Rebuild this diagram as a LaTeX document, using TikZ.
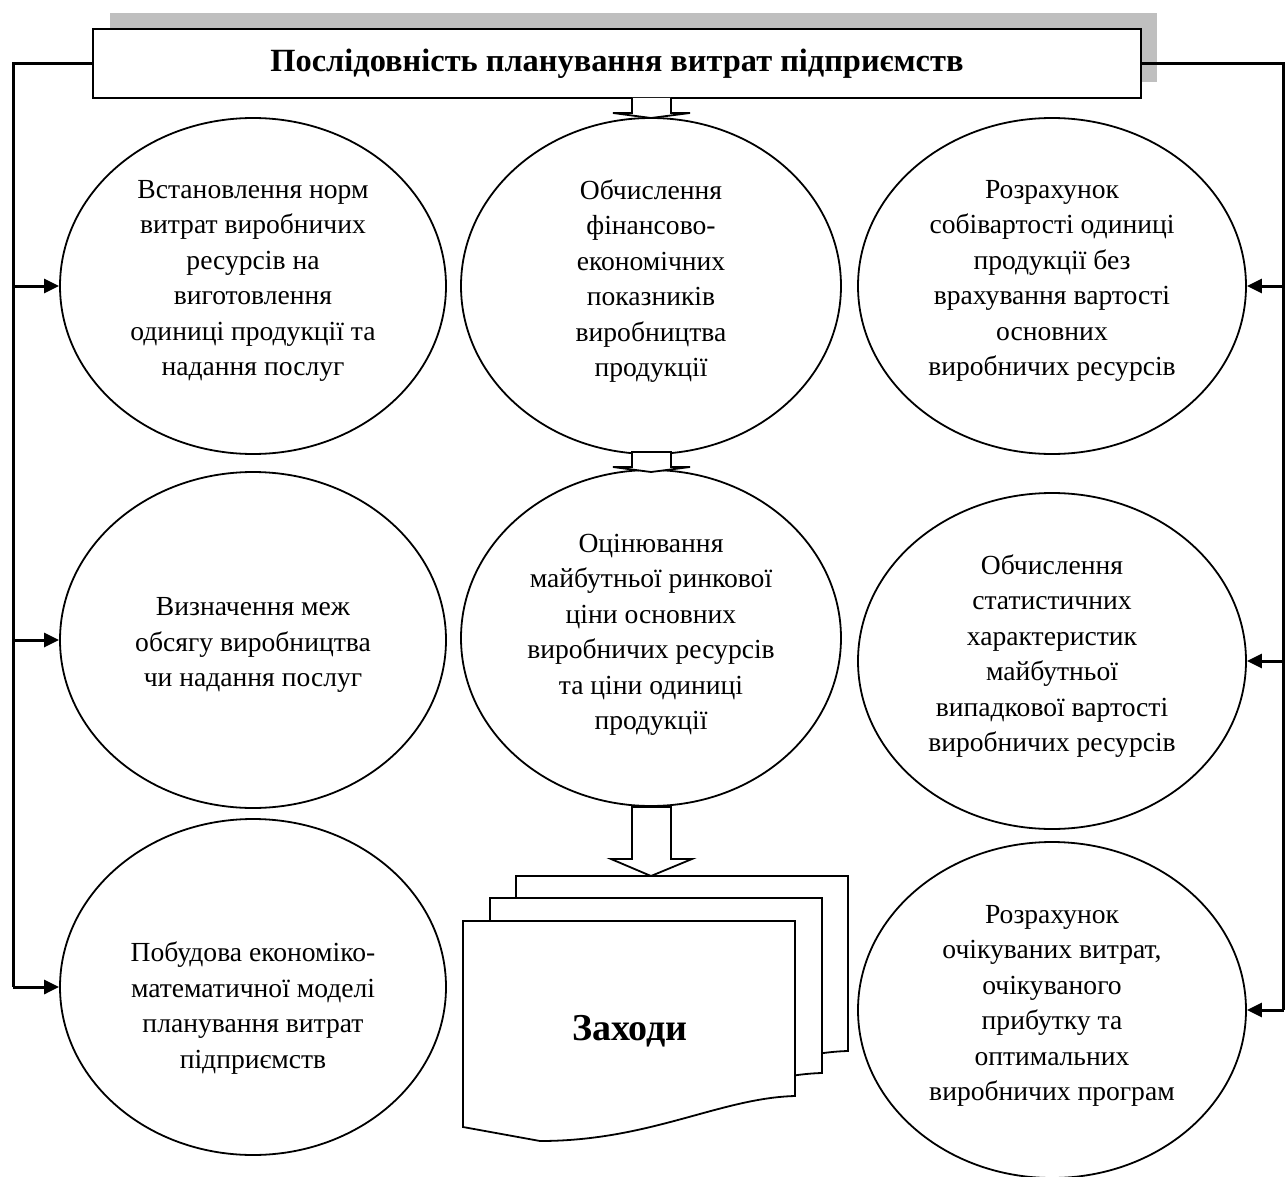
\documentclass[tikz,border=0pt]{standalone}
\usepackage{fontspec}
\setmainfont{Liberation Serif}
\usetikzlibrary{shapes.geometric,arrows.meta}
\tikzset{
  bus/.style={line width=1.5pt},
  busarrow/.style={line width=1.5pt,-{Triangle[length=7.5pt,width=7pt]}},
  oval/.style={ellipse,draw,line width=0.9pt,inner sep=0pt,minimum height=168pt},
  otext/.style={align=center,inner sep=0pt,font=\fontsize{13.8pt}{17.75pt}\selectfont},
  titlebox/.style={draw,fill=white,line width=1.1pt,minimum width=524pt,minimum height=34.5pt,inner sep=0pt,font=\fontsize{16.2pt}{20pt}\selectfont\bfseries},
  blockarrow/.style={draw,fill=white,line width=0.9pt,line join=miter},
  docpage/.style={draw,fill=white,line width=0.9pt}
}
\begin{document}
\begin{tikzpicture}[x=0.5pt,y=-0.5pt]
\useasboundingbox (0,0) rectangle (1285,1177);
% shadow and title
\fill[gray!50] (110,13) rectangle (1157,82);
\node[titlebox] (title) at (617,63.5) {Послідовність планування витрат підприємств};
% ellipses
\node[oval,minimum width=193pt] (L1) at (253,286) {};
\node[oval,minimum width=190pt] (M1) at (651,286) {};
\node[oval,minimum width=194pt] (R1) at (1052,286) {};
\node[oval,minimum width=193pt] (L2) at (253,640) {};
\node[oval,minimum width=190pt] (M2) at (651,638) {};
\node[oval,minimum width=194pt] (R2) at (1052,661) {};
\node[oval,minimum width=193pt] (L3) at (253,987) {};
\node[oval,minimum width=194pt] (R3) at (1052,1010) {};
% texts
\node[otext] (tL1) at (253,281) {Встановлення норм\\витрат виробничих\\ресурсів на\\виготовлення\\одиниці продукції та\\надання послуг};
\node[otext] (tM1) at (651,281) {Обчислення\\фінансово-\\економічних\\показників\\виробництва\\продукції};
\node[otext] (tR1) at (1052,281) {Розрахунок\\собівартості одиниці\\продукції без\\врахування вартості\\основних\\виробничих ресурсів};
\node[otext] (tL2) at (253,645) {Визначення меж\\обсягу виробництва\\чи надання послуг};
\node[otext] (tM2) at (651,635) {Оцінювання\\майбутньої ринкової\\ціни основних\\виробничих ресурсів\\та ціни одиниці\\продукції};
\node[otext] (tR2) at (1052,656) {Обчислення\\статистичних\\характеристик\\майбутньої\\випадкової вартості\\виробничих ресурсів};
\node[otext] (tL3) at (253,1008) {Побудова економіко-\\математичної моделі\\планування витрат\\підприємств};
\node[otext] (tR3) at (1052,1006) {Розрахунок\\очікуваних витрат,\\очікуваного\\прибутку та\\оптимальних\\виробничих програм};
% block arrows
\draw[blockarrow] (632,98) -- (632,113) -- (613,113) -- (651,118) -- (690,113) -- (671,113) -- (671,98);
\draw[blockarrow] (632,452) -- (632,467) -- (613,467) -- (651,472) -- (690,467) -- (671,467) -- (671,452) -- cycle;
\draw[blockarrow] (632,807) -- (632,859) -- (611,859) -- (651,876) -- (692,859) -- (671,859) -- (671,807) -- cycle;
% document stack
\foreach \dx/\dy in {53/-45,27/-23,0/0}{
  \draw[docpage,shift={(\dx,\dy)}] (463,921) -- (795,921) -- (795,1096)
     .. controls (720,1098) and (650,1141) .. (540,1141) -- (463,1127) -- cycle;
}
\node[font=\fontsize{19pt}{22pt}\selectfont\bfseries,anchor=base] (doc) at (630,1040) {Заходи};
% left bus
\coordinate (lt) at (13,63.5);
\coordinate (l1) at (13,286);
\coordinate (l2) at (13,640);
\coordinate (l3) at (13,987);
\draw[bus] (title.west) -- (lt) -- (l3);
\draw[busarrow] (l1) -- (L1.west);
\draw[busarrow] (l2) -- (L2.west);
\draw[busarrow] (l3) -- (L3.west);
% right bus
\coordinate (rt) at (1283.5,63.5);
\coordinate (r1) at (1283.5,286);
\coordinate (r2) at (1283.5,661);
\coordinate (r3) at (1283.5,1010);
\draw[bus] (title.east) -- (rt) -- (r3);
\draw[busarrow] (r1) -- (R1.east);
\draw[busarrow] (r2) -- (R2.east);
\draw[busarrow] (r3) -- (R3.east);
\end{tikzpicture}
\end{document}
